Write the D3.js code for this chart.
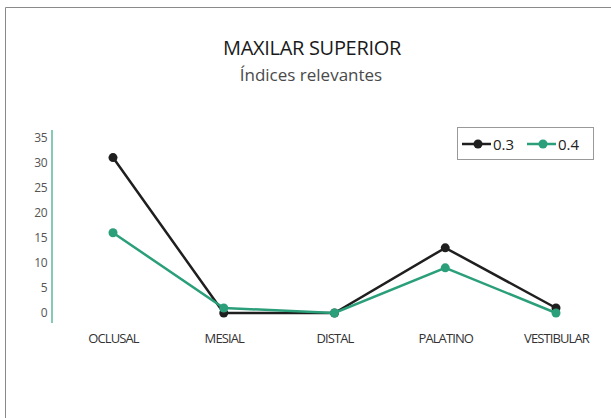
<!DOCTYPE html>
<html>
<head>
<meta charset="utf-8">
<script src="https://cdn.jsdelivr.net/npm/d3@7"></script>
<style>
  body { margin: 0; background: #fff; }
  svg { display: block; font-family: "Open Sans", sans-serif; }
</style>
</head>
<body>
<div id="chart"></div>
<script>
// data
var categories = ["OCLUSAL", "MESIAL", "DISTAL", "PALATINO", "VESTIBULAR"];
var serie03 = [31, 0, 0, 13, 1];
var serie04 = [16, 1, 0, 9, 0];
var seriesNames = ["0.3", "0.4"];
var seriesColors = ["#1f1f1f", "#2a9f7a"];
var yTicks = [0, 5, 10, 15, 20, 25, 30, 35];

var W = 611, H = 418;

var svg = d3.select("#chart").append("svg")
  .attr("width", W)
  .attr("height", H);

// frame (only top and left edges visible)
svg.append("path")
  .attr("d", "M5.5,418 V7.5 H611")
  .attr("fill", "none")
  .attr("stroke", "#8a8a8a")
  .attr("stroke-width", 1);

// titles
svg.append("text")
  .attr("x", 312).attr("y", 55)
  .attr("text-anchor", "middle")
  .attr("font-size", 20)
  .attr("font-weight", 500)
  .attr("letter-spacing", "-0.3")
  .attr("fill", "#1a1a1a")
  .text("MAXILAR SUPERIOR");

svg.append("text")
  .attr("x", 311).attr("y", 81)
  .attr("text-anchor", "middle")
  .attr("font-size", 17)
  .attr("fill", "#4a4a4a")
  .text("Índices relevantes");

// scales
var x = d3.scalePoint().domain(categories).range([113, 556]);
var y = d3.scaleLinear().domain([0, 35]).range([313, 137.5]);

// y axis
var yAxis = svg.append("g")
  .attr("transform", "translate(52,0)")
  .call(d3.axisLeft(y).tickValues(yTicks).tickSize(0).tickPadding(5));
yAxis.select(".domain")
  .attr("d", "M0,130V323")
  .attr("stroke", "#5cb89c")
  .attr("stroke-width", 1.5);
yAxis.selectAll("text")
  .attr("font-family", "Open Sans, sans-serif")
  .attr("font-size", 12)
  .attr("letter-spacing", "-0.5")
  .attr("fill", "#555");

// x axis labels
var xAxis = svg.append("g")
  .attr("transform", "translate(0,332)")
  .call(d3.axisBottom(x).tickSize(0).tickPadding(2));
xAxis.select(".domain").remove();
xAxis.selectAll("text")
  .attr("font-family", "Open Sans, sans-serif")
  .attr("font-size", 13)
  .attr("letter-spacing", "-0.9")
  .attr("fill", "#333");

// series
var allSeries = [serie03, serie04];
var line = d3.line()
  .x(function(d, i) { return x(categories[i]); })
  .y(function(d) { return y(d); });

for (var s = 0; s < allSeries.length; s++) {
  svg.append("path")
    .datum(allSeries[s])
    .attr("fill", "none")
    .attr("stroke", seriesColors[s])
    .attr("stroke-width", 2.5)
    .attr("d", line);
  svg.selectAll(".dot" + s)
    .data(allSeries[s])
    .enter().append("circle")
    .attr("class", "dot" + s)
    .attr("cx", function(d, i) { return x(categories[i]); })
    .attr("cy", function(d) { return y(d); })
    .attr("r", 4.5)
    .attr("fill", seriesColors[s]);
}

// legend
var legend = svg.append("g");
legend.append("rect")
  .attr("x", 457.5).attr("y", 127.5)
  .attr("width", 136).attr("height", 32)
  .attr("fill", "#fff")
  .attr("stroke", "#999");

var legX = [462, 527];
for (var k = 0; k < seriesNames.length; k++) {
  legend.append("line")
    .attr("x1", legX[k]).attr("x2", legX[k] + 29)
    .attr("y1", 144).attr("y2", 144)
    .attr("stroke", seriesColors[k])
    .attr("stroke-width", 2.5);
  legend.append("circle")
    .attr("cx", legX[k] + 16).attr("cy", 144)
    .attr("r", 4.5)
    .attr("fill", seriesColors[k]);
  legend.append("text")
    .attr("x", legX[k] + 31).attr("y", 149.5)
    .attr("font-size", 15)
    .attr("fill", "#222")
    .text(seriesNames[k]);
}
</script>
</body>
</html>
